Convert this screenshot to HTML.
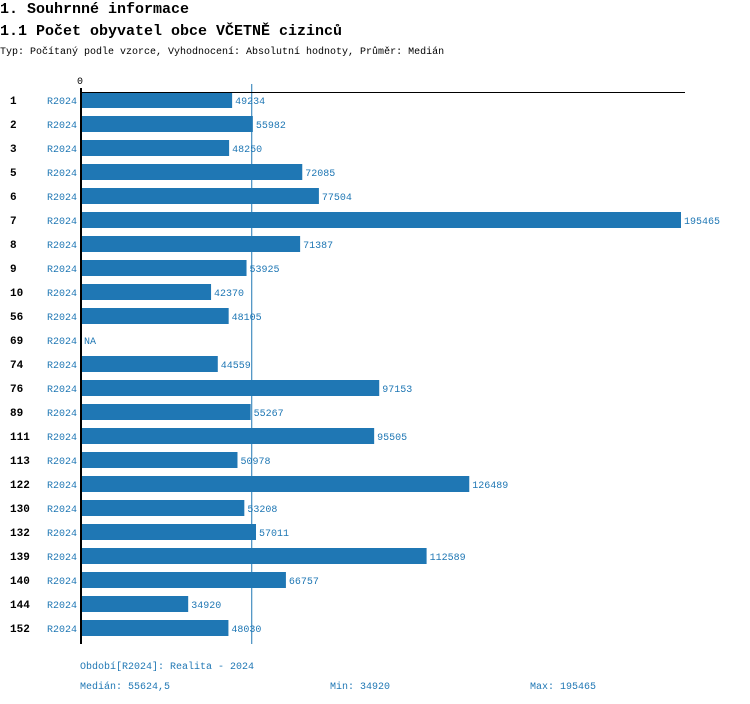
<!DOCTYPE html>
<html><head><meta charset="utf-8"><style>
body{margin:0;background:#fff;width:750px;height:704px;overflow:hidden}
svg{display:block;font-family:"Liberation Mono","DejaVu Sans Mono",monospace}
</style></head><body>
<svg id="c" width="750" height="704">
<text x="0" y="13" font-size="15" font-weight="bold">1. Souhrnné informace</text>
<text x="0" y="35" font-size="15" font-weight="bold">1.1 Počet obyvatel obce VČETNĚ cizinců</text>
<text x="0" y="54" font-size="10">Typ: Počítaný podle vzorce, Vyhodnocení: Absolutní hodnoty, Průměr: Medián</text>
<text x="77" y="84" font-size="10">0</text>
<g id="bars"></g>
<text x="80" y="669" font-size="10" fill="#1f77b4">Období[R2024]: Realita - 2024</text>
<text x="80" y="689" font-size="10" fill="#1f77b4">Medián: 55624,5</text>
<text x="330" y="689" font-size="10" fill="#1f77b4">Min: 34920</text>
<text x="530" y="689" font-size="10" fill="#1f77b4">Max: 195465</text>
</svg>
<script>
const categories=["1","2","3","5","6","7","8","9","10","56","69","74","76","89","111","113","122","130","132","139","140","144","152"];
const values=[49234,55982,48250,72085,77504,195465,71387,53925,42370,48105,null,44559,97153,55267,95505,50978,126489,53208,57011,112589,66757,34920,48030];
const period="R2024";
const medianValue=55624.5;
const NS="http://www.w3.org/2000/svg";
const g=document.getElementById('bars');
const x0=81, maxV=Math.max(...values.filter(v=>v!=null));
const xs=v=>x0+v*600/maxV;
const y0=100, step=24;
const ys=i=>y0+i*step;
function mk(t,a,p){const e=document.createElementNS(NS,t);for(const k in a)e.setAttribute(k,a[k]);(p||g).appendChild(e);return e;}
const yEnd=ys(categories.length-1)+16;
const ml=mk('line',{x1:xs(medianValue),x2:xs(medianValue),y1:84,y2:yEnd,stroke:'#1f77b4','stroke-width':1});


categories.forEach((c,i)=>{
  const y=ys(i);
  const t=mk('text',{x:10,y:y+4,'font-size':11,'font-weight':'bold'});t.textContent=c;
  
  
  const p=mk('text',{x:47,y:y+4,'font-size':10,fill:'#1f77b4'});p.textContent=period;
  
  
  const v=values[i];
  if(v!=null){
    const r=mk('rect',{x:x0,y:y-8,width:xs(v)-x0,height:16,fill:'#1f77b4'});
    
    
  }
  const l=mk('text',{x:(v!=null?xs(v):x0)+3,y:y+4,'font-size':10,fill:'#1f77b4'});l.textContent=v!=null?v:'NA';
  
  
});
const ax=mk('line',{x1:80,x2:685,y1:92.5,y2:92.5,stroke:'#000','stroke-width':1});


const ay=mk('line',{x1:81,x2:81,y1:88,y2:yEnd,stroke:'#000','stroke-width':2});


</script>
</body></html>
